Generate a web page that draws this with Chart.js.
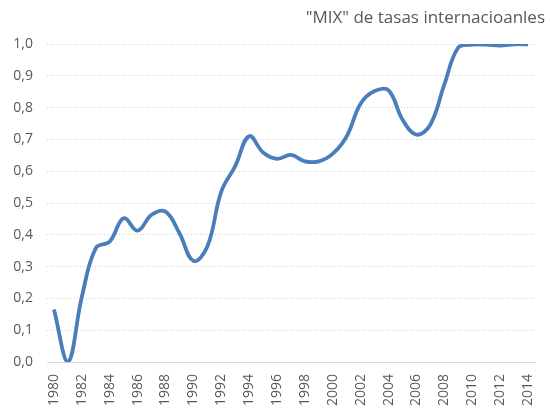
<!DOCTYPE html>
<html>
<head>
<meta charset="utf-8">
<script src="https://cdn.jsdelivr.net/npm/chart.js@4"></script>
<style>
  html, body { margin: 0; padding: 0; background: #ffffff; }
  #wrap { width: 550px; height: 408px; }
</style>
</head>
<body>
<div id="wrap"><canvas id="canvas"></canvas></div>
<script>
"use strict";

const years = [
  "1980", "1981", "1982", "1983", "1984", "1985", "1986", "1987", "1988", "1989",
  "1990", "1991", "1992", "1993", "1994", "1995", "1996", "1997", "1998", "1999",
  "2000", "2001", "2002", "2003", "2004", "2005", "2006", "2007", "2008", "2009",
  "2010", "2011", "2012", "2013", "2014",
];
const mix_values = [
  0.165, 0.0, 0.205, 0.358, 0.379, 0.452, 0.413, 0.463, 0.473, 0.405,
  0.318, 0.363, 0.536, 0.616, 0.71, 0.659, 0.639, 0.651, 0.631, 0.631,
  0.655, 0.71, 0.813, 0.852, 0.854, 0.762, 0.715, 0.747, 0.873, 0.989,
  0.998, 0.998, 0.995, 0.999, 0.999,
];
const title_text = "\"MIX\" de tasas internacioanles";

const canvas = document.getElementById("canvas");
const ctx = canvas.getContext("2d");

Chart.defaults.font.family = "'Open Sans', sans-serif";
Chart.defaults.color = "#595959";

const lineChart = new Chart(ctx, {
  type: "line",
  data: {
    labels: years,
    datasets: [
      {
        label: "MIX",
        data: mix_values,
        borderColor: "#4a7ebb",
        borderWidth: 3.8,
        pointRadius: 0,
        tension: 0.4,
        fill: false,
      },
    ],
  },
  options: {
    responsive: true,
    maintainAspectRatio: false,
    animation: false,
    layout: {
      padding: { left: 0, right: 5, top: 0, bottom: 0 },
    },
    plugins: {
      legend: { display: false },
      tooltip: { enabled: false },
      title: {
        display: true,
        text: title_text,
        align: "end",
        color: "#595959",
        font: { size: 17, weight: "normal" },
        padding: { top: 8, bottom: 15.6 },
      },
    },
    scales: {
      x: {
        offset: true,
        grid: { display: false },
        border: { display: true, color: "#d9d9d9", width: 1 },
        ticks: {
          autoSkip: false,
          minRotation: 90,
          maxRotation: 90,
          padding: 4,
          font: { size: 14 },
          callback: function (value, index) {
            return index % 2 === 0 ? years[index] : "";
          },
        },
        afterFit: (scale) => {
          scale.height = 46;
        },
      },
      y: {
        min: 0,
        max: 1,
        grid: {
          color: "#d0d0d0",
          drawTicks: false,
        },
        border: { display: false, dash: [1, 2] },
        ticks: {
          stepSize: 0.1,
          padding: 14,
          font: { size: 14 },
          callback: (v) => v.toFixed(1).replace(".", ","),
        },
        afterFit: (scale) => {
          scale.width = 47;
        },
      },
      // empty spacer on the right so the title can run past the plot area
      spacer: {
        type: "linear",
        position: "right",
        display: true,
        grid: { display: false },
        border: { display: false },
        ticks: { display: false },
        afterFit: (scale) => {
          scale.width = 10;
        },
      },
    },
  },
});
</script>
</body>
</html>
